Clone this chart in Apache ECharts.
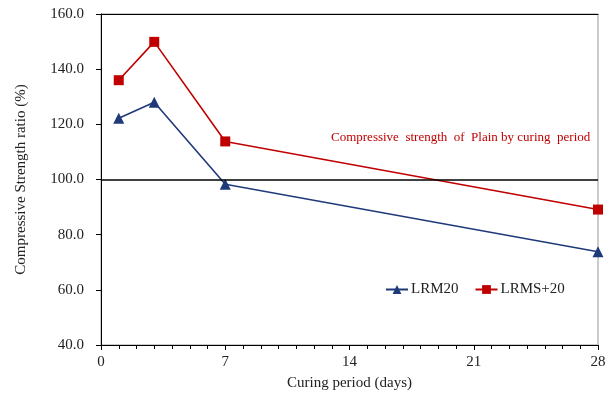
<!DOCTYPE html>
<html>
<head>
<meta charset="utf-8">
<script src="https://cdn.jsdelivr.net/npm/echarts@6/dist/echarts.min.js"></script>
<style>
  html, body { margin: 0; padding: 0; background: #fff; }
  #chart { width: 611px; height: 396px; }
</style>
</head>
<body>
<div id="chart"></div>
<script>
const days = [1, 3, 7, 28]
const lrm20 = [122.2, 128.0, 98.3, 73.8]
const lrms20 = [136.0, 149.9, 113.8, 89.1]
const plainRatio = 100

const font = 'Liberation Serif'
const navy = '#1f3a7a'
const red = '#c00000'

const chart = echarts.init(document.getElementById('chart'))

chart.setOption({
  backgroundColor: '#fff',
  textStyle: { fontFamily: font, color: '#222' },
  grid: {
    left: 101, right: 13, top: 14, bottom: 51,
    show: true, borderColor: '#999', borderWidth: 1
  },
  legend: {
    left: 385, top: 282,
    itemGap: 16, itemWidth: 22, itemHeight: 11, padding: 0,
    textStyle: { fontFamily: font, fontSize: 15, color: '#222', padding: [0, 0, 0, -2] },
    data: ['LRM20', 'LRMS+20']
  },
  xAxis: [{
    type: 'value', min: 0, max: 28, interval: 7,
    name: 'Curing period (days)', nameLocation: 'middle', nameGap: 31,
    nameTextStyle: { fontFamily: font, fontSize: 15, color: '#222' },
    axisLine: { show: true, onZero: false, lineStyle: { color: '#000', width: 1 } },
    axisTick: { show: true, length: 5, lineStyle: { color: '#000' } },
    minorTick: { show: true, splitNumber: 7, length: 4, lineStyle: { color: '#000' } },
    splitLine: { show: false },
    axisLabel: { fontFamily: font, fontSize: 15, color: '#222', margin: 10 }
  }, {
    type: 'value', min: 0, max: 28, position: 'top',
    axisLine: { show: true, lineStyle: { color: '#000' } },
    axisTick: { show: false }, axisLabel: { show: false }, splitLine: { show: false }
  }],
  yAxis: {
    type: 'value', min: 40, max: 160, interval: 20,
    name: 'Compressive Strength ratio (%)', nameLocation: 'middle', nameGap: 72,
    nameTextStyle: { fontFamily: font, fontSize: 15, color: '#222' },
    axisLine: { show: true, lineStyle: { color: '#000', width: 1 } },
    axisTick: { show: true, length: 5, lineStyle: { color: '#000' } },
    splitLine: { show: false },
    axisLabel: { fontFamily: font, fontSize: 15, color: '#222', margin: 17,
      formatter: v => v.toFixed(1) }
  },
  series: [
    {
      name: 'LRM20', type: 'line',
      data: days.map((d, i) => [d, lrm20[i]]),
      symbol: 'triangle', symbolSize: 11,
      lineStyle: { color: navy, width: 1.6 },
      itemStyle: { color: navy },
      z: 3,
      markLine: {
        silent: true, symbol: 'none', label: { show: false },
        lineStyle: { color: '#000', width: 1.5, type: 'solid' },
        data: [{ yAxis: plainRatio }]
      }
    },
    {
      name: 'LRMS+20', type: 'line',
      data: days.map((d, i) => [d, lrms20[i]]),
      symbol: 'rect', symbolSize: 10,
      lineStyle: { color: red, width: 1.6 },
      itemStyle: { color: red },
      z: 3
    }
  ],
  graphic: [{
    type: 'text', left: 331, top: 131,
    style: {
      text: 'Compressive  strength  of  Plain by curing  period',
      fill: red, font: '13px "Liberation Serif"'
    }
  }]
})
</script>
</body>
</html>
